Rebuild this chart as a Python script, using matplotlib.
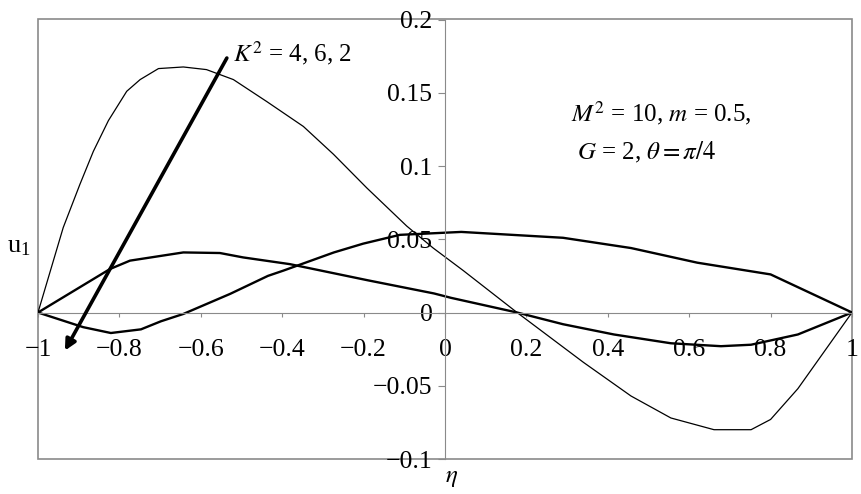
import matplotlib
matplotlib.use('Agg')
from matplotlib import pyplot as plt
from matplotlib.patches import Rectangle

plt.rcParams['font.family'] = ['Liberation Serif', 'DejaVu Serif']
plt.rcParams['mathtext.fontset'] = 'stix'

# curve with the high peak (thin line)
eta_a = [-1.0, -0.938, -0.897, -0.864, -0.827, -0.782, -0.749, -0.704, -0.643, -0.586,
         -0.520, -0.438, -0.348, -0.274, -0.192, -0.094, -0.029, 0.045, 0.177, 0.34,
         0.457, 0.555, 0.661, 0.752, 0.80, 0.867, 1.0]
u_a = [0.0, 0.058, 0.0875, 0.110, 0.131, 0.151, 0.159, 0.1665, 0.1676, 0.1658,
       0.159, 0.144, 0.127, 0.108, 0.085, 0.059, 0.044, 0.0286, 0.0, -0.034,
       -0.057, -0.072, -0.080, -0.080, -0.073, -0.052, 0.0]

# curve with small positive hump
eta_b = [-1.0, -0.823, -0.774, -0.643, -0.553, -0.496, -0.381, -0.19, -0.027, 0.015,
         0.177, 0.29, 0.415, 0.555, 0.678, 0.752, 0.867, 1.0]
u_b = [0.0, 0.0297, 0.0354, 0.041, 0.0406, 0.0376, 0.033, 0.022, 0.013, 0.010,
       0.0, -0.008, -0.015, -0.021, -0.023, -0.022, -0.015, 0.0]

# curve dipping negative first
eta_c = [-1.0, -0.889, -0.821, -0.747, -0.698, -0.643, -0.528, -0.435, -0.397, -0.273,
         -0.201, -0.111, 0.04, 0.29, 0.457, 0.62, 0.80, 0.90, 1.0]
u_c = [0.0, -0.010, -0.014, -0.0115, -0.006, -0.001, 0.0127, 0.025, 0.0286, 0.041,
       0.047, 0.053, 0.055, 0.051, 0.044, 0.034, 0.026, 0.013, 0.0]

xticks = [-1, -0.8, -0.6, -0.4, -0.2, 0, 0.2, 0.4, 0.6, 0.8, 1]
yticks = [-0.1, -0.05, 0, 0.05, 0.1, 0.15, 0.2]

gray = '#8a8a8a'

fig = plt.figure(figsize=(8.62, 4.94), dpi=100)
ax = fig.add_axes([38/862, 35/494, 814/862, 439.5/494])

ax.plot(eta_a, u_a, 'k-', lw=0.9)
ax.plot(eta_b, u_b, 'k-', lw=1.7)
ax.plot(eta_c, u_c, 'k-', lw=1.7)

ax.set_xlim(-1, 1)
ax.set_ylim(-0.1, 0.2)

for s in ['top', 'right']:
    ax.spines[s].set_visible(False)
ax.spines['left'].set_position(('data', 0))
ax.spines['bottom'].set_position(('data', 0))
ax.spines['left'].set_color(gray)
ax.spines['bottom'].set_color(gray)
ax.add_patch(Rectangle((0, 0), 1, 1, transform=ax.transAxes, fill=False,
                       ec=gray, lw=1.2, clip_on=False, zorder=0.5))

def fmt(v):
    return ('%g' % v).replace('-', '\u2212')

ax.set_xticks(xticks)
ax.set_xticklabels([fmt(v) for v in xticks])
ax.set_yticks(yticks)
ax.set_yticklabels([fmt(v) for v in yticks])
ax.tick_params(axis='x', direction='out', length=3, color=gray, pad=16, labelsize=18.5)
ax.tick_params(axis='y', direction='out', length=5, color=gray, pad=4, labelsize=18.5)

ax.annotate('', xy=(-0.934, -0.026), xytext=(-0.536, 0.1737),
            arrowprops=dict(arrowstyle='-|>', color='black', lw=2.6,
                            mutation_scale=16, shrinkA=0, shrinkB=0))
ax.text(-0.52, 0.177, r'$K^2$ = 4, 6, 2', fontsize=18, va='center', ha='left')
ax.text(0.31, 0.136, r'$M^2$ = 10, $m$ = 0.5,', fontsize=18, va='center', ha='left')
ax.text(0.325, 0.109, r'$G$ = 2, $\theta = \pi/4$', fontsize=18, va='center', ha='left')

fig.text(7/862, 1 - 247/494, r'u$_{\mathregular{1}}$', fontsize=19, va='center', ha='left')
fig.text(452/862, 1 - 478/494, r'$\eta$', fontsize=18, va='center', ha='center')

fig.savefig('out.png', dpi=100)
